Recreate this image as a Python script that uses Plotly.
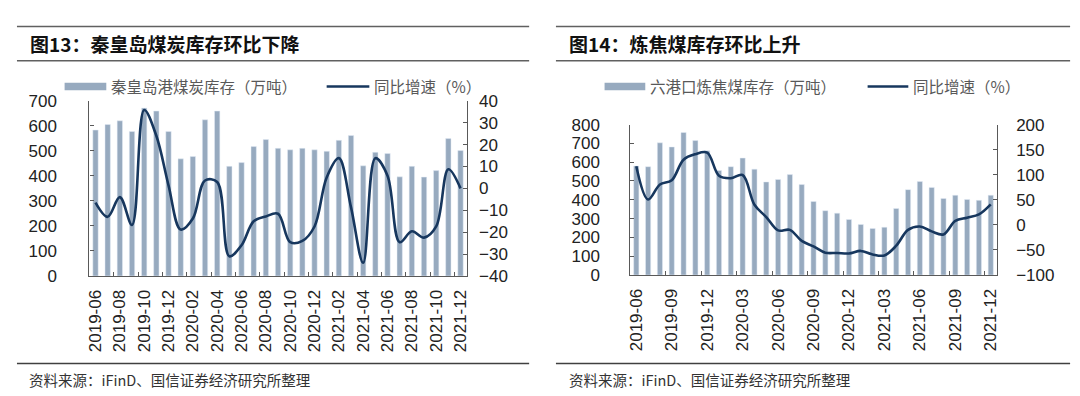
import plotly.graph_objects as go

# ---------------- data ----------------
months = ["2019-06","2019-07","2019-08","2019-09","2019-10","2019-11","2019-12",
          "2020-01","2020-02","2020-03","2020-04","2020-05","2020-06","2020-07",
          "2020-08","2020-09","2020-10","2020-11","2020-12","2021-01","2021-02",
          "2021-03","2021-04","2021-05","2021-06","2021-07","2021-08","2021-09",
          "2021-10","2021-11","2021-12"]

# Fig 13: Qinhuangdao coal inventory (10k t) and YoY (%)
qhd_stock = [583, 605, 620, 577, 671, 659, 577, 468, 477, 624, 659, 438, 453, 517,
             545, 510, 504, 510, 504, 498, 542, 561, 440, 494, 489, 396, 438, 395,
             421, 549, 501]
qhd_yoy = [-6.5, -13, -4, -16.7, 35.8, 24, 1.4, -18.8, -13.8, 3.6, 2.9, -31, -26,
           -15, -12.8, -11.6, -24.6, -24, -17.4, 5, 13.8, -8.7, -34, 13.8, 5.8,
           -24.6, -19.6, -22.5, -17.4, 8.7, 0]

# Fig 14: six-port coking coal inventory (10k t) and YoY (%)
coke_stock = [580, 576, 703, 681, 758, 715, 661, 556, 576, 622, 563, 495, 508, 534,
              481, 391, 342, 329, 295, 269, 247, 254, 354, 454, 497, 466, 407, 424,
              402, 397, 424]
coke_yoy = [117, 50.6, 80.5, 89, 130, 141, 144, 98, 93, 99.5, 40, 15.6, -11, -10,
            -32, -43, -55.6, -56, -57, -52, -59, -61, -41.6, -10, -3.4, -13, -19,
            8, 14.4, 21, 41]

title_left = "图13：秦皇岛煤炭库存环比下降"
title_right = "图14：炼焦煤库存环比上升"
source_txt = "资料来源：iFinD、国信证券经济研究所整理"
leg_bar_left = "秦皇岛港煤炭库存（万吨）"
leg_bar_right = "六港口炼焦煤库存（万吨）"
leg_line = "同比增速（%）"

# ---------------- styling ----------------
W, H = 1080, 396
BAR_C = "#97AABF"
LINE_C = "#17375E"
AX_C = "#595959"
TXT_C = "#222222"
NUM_FONT = "Liberation Sans, Arial, sans-serif"
CJK_FONT = "Noto Sans CJK SC, sans-serif"

def X(px):
    return px / W

def Y(py):
    return 1 - py / H

fig = go.Figure()

fig.add_trace(go.Bar(x=months, y=qhd_stock, marker_color=BAR_C, xaxis="x", yaxis="y",
                     showlegend=False))
fig.add_trace(go.Scatter(x=months, y=qhd_yoy, mode="lines", xaxis="x", yaxis="y2",
                         line=dict(color=LINE_C, width=2.6, shape="spline", smoothing=1.0),
                         showlegend=False))
fig.add_trace(go.Bar(x=months, y=coke_stock, marker_color=BAR_C, xaxis="x2", yaxis="y3",
                     showlegend=False))
fig.add_trace(go.Scatter(x=months, y=coke_yoy, mode="lines", xaxis="x2", yaxis="y4",
                         line=dict(color=LINE_C, width=2.6, shape="spline", smoothing=1.0),
                         showlegend=False))

tickfont = dict(family=NUM_FONT, size=17, color=TXT_C)

def xaxis_cfg(domain, anchor, dtick):
    return dict(domain=domain, anchor=anchor, type="category", tickson="boundaries",
                dtick=dtick, tickangle=-90, tickfont=tickfont, showline=True,
                linecolor=AX_C, linewidth=1.2, ticks="inside", ticklen=4,
                tickcolor=AX_C, showgrid=False, zeroline=False, fixedrange=True,
                range=[-0.5, len(months) - 0.5], ticklabelstandoff=6)

def yaxis_cfg(domain, anchor, rng, dtick, side="left", overlaying=None, standoff=14):
    d = dict(domain=domain, anchor=anchor, range=rng, dtick=dtick, tick0=rng[0],
             side=side, tickfont=tickfont, showline=True, linecolor=AX_C,
             linewidth=1.2, ticks="inside", ticklen=4, tickcolor=AX_C,
             showgrid=False, zeroline=False, fixedrange=True,
             ticklabelstandoff=standoff)
    if overlaying:
        d["overlaying"] = overlaying
    return d

L_dom_x = [X(78), X(458)]
L_dom_y = [Y(272), Y(88)]
R_dom_x = [X(623), X(992)]
R_dom_y = [Y(271), Y(113)]

fig.update_layout(
    width=W, height=H, margin=dict(l=0, r=0, t=0, b=0),
    paper_bgcolor="white", plot_bgcolor="white",
    bargap=0.56, showlegend=False,
    xaxis=xaxis_cfg(L_dom_x, "y", 2),
    yaxis=yaxis_cfg(L_dom_y, "x", [0, 700], 100, standoff=28),
    yaxis2=yaxis_cfg(L_dom_y, "x", [-40, 40], 10, side="right", overlaying="y", standoff=8),
    xaxis2=xaxis_cfg(R_dom_x, "y3", 3),
    yaxis3=yaxis_cfg(R_dom_y, "x2", [0, 800], 100, standoff=26),
    yaxis4=yaxis_cfg(R_dom_y, "x2", [-100, 200], 50, side="right", overlaying="y3", standoff=15),
)

shapes = []
annotations = []

def hline(x0, x1, y, color="#606060", width=1.6):
    shapes.append(dict(type="line", xref="paper", yref="paper", x0=X(x0), x1=X(x1),
                       y0=Y(y), y1=Y(y), line=dict(color=color, width=width)))

def text(px, py, s, size, color=TXT_C, bold=False, family=CJK_FONT):
    annotations.append(dict(xref="paper", yref="paper", x=X(px), y=Y(py), text=(f"<b>{s}</b>" if bold else s),
                            showarrow=False, xanchor="left", yanchor="middle", borderpad=0,
                            font=dict(family=family, size=size, color=color)))

# header / footer rules
for (a, b) in [(5, 521), (548, 1066)]:
    hline(a, b, 10)
    hline(a, b, 46)
    hline(a, b, 364, color="#404040", width=1.6)

text(17, 28, title_left, 19, color="#111111", bold=True)
text(560, 28, title_right, 19, color="#111111", bold=True)
text(16, 381, source_txt, 14.5, color="#333333")
text(560, 381, source_txt, 14.5, color="#333333")

# manual legends
def legend(bx0, bx1, lx0, lx1, ycen, bar_label):
    shapes.append(dict(type="rect", xref="paper", yref="paper", x0=X(bx0), x1=X(bx1),
                       y0=Y(ycen + 4), y1=Y(ycen - 4), fillcolor=BAR_C, line=dict(width=0)))
    text(bx1 + 4, ycen, bar_label, 15.5, color="#595959")
    shapes.append(dict(type="line", xref="paper", yref="paper", x0=X(lx0), x1=X(lx1),
                       y0=Y(ycen), y1=Y(ycen), line=dict(color=LINE_C, width=2.6)))
    text(lx1 + 4, ycen, leg_line, 15.5, color="#595959")

legend(53, 95, 317, 360, 73, leg_bar_left)
legend(597, 638, 862, 903, 73, leg_bar_right)

fig.update_layout(shapes=shapes, annotations=annotations)

fig.write_html("out.html")
